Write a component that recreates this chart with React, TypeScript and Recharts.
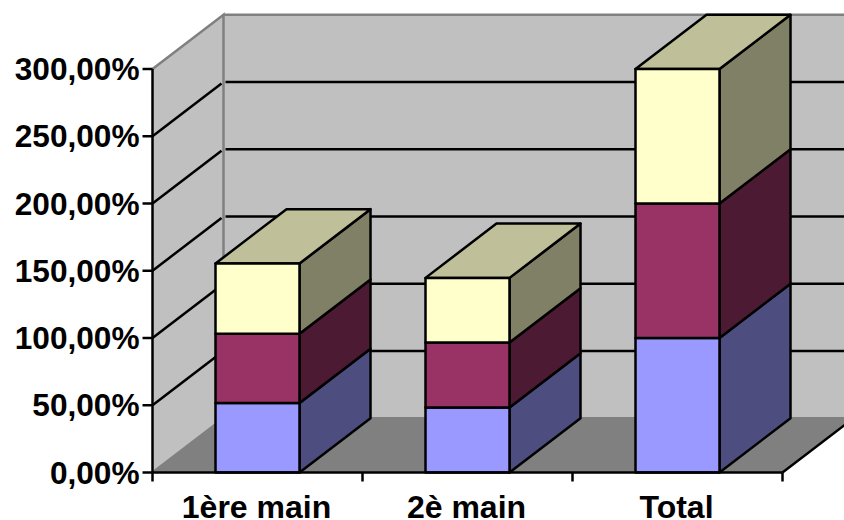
import { Bar, BarChart, CartesianGrid, ReferenceArea, XAxis, YAxis } from "recharts";

const categories = ["1ère main", "2è main", "Total"];
const firstValues = [51.6, 48.3, 100];
const secondValues = [51.6, 48.3, 100];
const thirdValues = [52.2, 48.1, 100];
const yTicks = [0, 50, 100, 150, 200, 250, 300];

const chartData = categories.map((name, i) => ({
  name,
  first: firstValues[i],
  second: secondValues[i],
  third: thirdValues[i],
}));

const WIDTH = 844;
const HEIGHT = 520;
const MARGIN = { top: 69, right: 61.5, bottom: 0, left: 0 };
const AXIS_WIDTH = 152.5;
const X_AXIS_HEIGHT = 47.5;
const FONT = '"Liberation Sans", Arial, sans-serif';
const LINE = 2.5;

// depth of the fake 3D box, back plane is shifted by this much
const DX = 71;
const DY = 54.3;
const BAND = (WIDTH - AXIS_WIDTH - MARGIN.right) / categories.length;

function pts(list: number[][]) {
  return list.map((p) => p.join(",")).join(" ");
}

function Walls({ x, y, width, height }: any) {
  const bottom = y + height;
  const right = x + width;
  return (
    <g>
      <polygon points={pts([[x, y], [x + DX, y - DY], [x + DX, bottom - DY], [x, bottom]])} fill="#c0c0c0" />
      <rect x={x + DX} y={y - DY} width={width} height={height} fill="#c0c0c0" />
      <polygon
        points={pts([[x, bottom], [right, bottom], [right + DX, bottom - DY], [x + DX, bottom - DY]])}
        fill="#808080"
      />
      <polyline
        points={pts([[x, bottom], [x + DX, bottom - DY], [x + DX, y - DY], [x, y]])}
        fill="none"
        stroke="#808080"
        strokeWidth={LINE}
      />
      <line x1={x + DX} y1={y - DY} x2={right + DX} y2={y - DY} stroke="#808080" strokeWidth={LINE} />
      <line x1={x + DX} y1={bottom - DY} x2={right + DX} y2={bottom - DY} stroke="#808080" strokeWidth={LINE} />
      <line x1={right} y1={bottom} x2={right + DX} y2={bottom - DY} stroke="#000" strokeWidth={LINE} />
    </g>
  );
}

// grid line runs along the side wall, then across the back wall
function GridLine({ x1, x2, y1, index }: any) {
  if (index === 0 || index === yTicks.length - 1) return <g />;
  return (
    <g stroke="#000" strokeWidth={LINE} fill="none">
      <line x1={x1} y1={y1} x2={x1 + DX - 2} y2={y1 - DY + 1.5} />
      <line x1={x1 + DX + 2} y1={y1 - DY} x2={x2 + DX} y2={y1 - DY} />
    </g>
  );
}

function Box({ x, y, width, height, fill, side, top }: any) {
  const r = x + width;
  const b = y + height;
  return (
    <g stroke="#000" strokeWidth={LINE} strokeLinejoin="round">
      <polygon points={pts([[r, y], [r + DX, y - DY], [r + DX, b - DY], [r, b]])} fill={side} />
      {top && <polygon points={pts([[x, y], [r, y], [r + DX, y - DY], [x + DX, y - DY]])} fill={top} />}
      <rect x={x} y={y} width={width} height={height} fill={fill} />
    </g>
  );
}

// category label in the middle of the band, tick marks on the band edges
function CategoryTick({ x, payload, index }: any) {
  const left = x - BAND / 2;
  const axisY = HEIGHT - X_AXIS_HEIGHT;
  return (
    <g>
      <line x1={left} y1={axisY} x2={left} y2={axisY + 9} stroke="#000" strokeWidth={LINE} />
      {index === categories.length - 1 && (
        <line x1={x + BAND / 2} y1={axisY} x2={x + BAND / 2} y2={axisY + 9} stroke="#000" strokeWidth={LINE} />
      )}
      <text x={x - 1} y={axisY + 45} textAnchor="middle" fontFamily={FONT} fontWeight="bold" fontSize={32} fill="#000">
        {payload.value}
      </text>
    </g>
  );
}

export default function App() {
  return (
    <div style={{ position: "absolute", left: 0, top: 0, width: WIDTH, height: HEIGHT, background: "#fff" }}>
      <BarChart width={WIDTH} height={HEIGHT} data={chartData} margin={MARGIN} barSize={84}>
        <ReferenceArea y1={0} y2={300} ifOverflow="visible" shape={<Walls />} zIndex={-200} />
        <CartesianGrid vertical={false} horizontal={(p: any) => <GridLine key={p.key} {...p} />} />
        <XAxis
          dataKey="name"
          height={X_AXIS_HEIGHT}
          interval={0}
          axisLine={{ stroke: "#000", strokeWidth: LINE }}
          tickLine={false}
          tick={<CategoryTick />}
        />
        <YAxis
          width={AXIS_WIDTH}
          domain={[0, 300]}
          ticks={yTicks}
          interval={0}
          tickSize={10}
          tickMargin={3}
          axisLine={{ stroke: "#000", strokeWidth: LINE }}
          tickLine={{ stroke: "#000", strokeWidth: LINE }}
          tick={{ fontFamily: FONT, fontWeight: "bold", fontSize: 31.6, fill: "#000" }}
          tickFormatter={(v: number) => `${v},00%`}
        />
        <Bar
          dataKey="first"
          stackId="a"
          fill="#9999ff"
          isAnimationActive={false}
          shape={(p: any) => <Box {...p} side="#4d4d80" />}
        />
        <Bar
          dataKey="second"
          stackId="a"
          fill="#993366"
          isAnimationActive={false}
          shape={(p: any) => <Box {...p} side="#4d1a33" />}
        />
        <Bar
          dataKey="third"
          stackId="a"
          fill="#ffffcc"
          isAnimationActive={false}
          shape={(p: any) => <Box {...p} side="#808066" top="#bfbf99" />}
        />
      </BarChart>
    </div>
  );
}
